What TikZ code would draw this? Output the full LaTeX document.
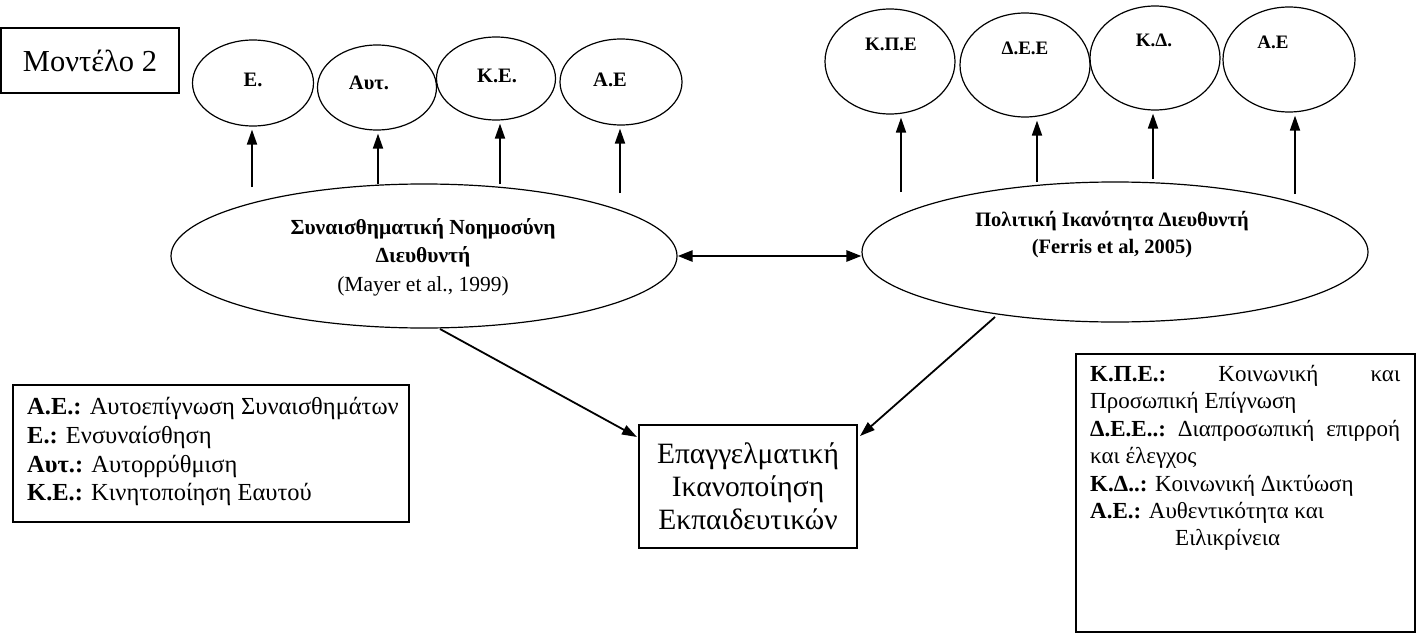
\documentclass[tikz,border=0pt]{standalone}
\usepackage{fontspec}
\setmainfont{Liberation Serif}
\usetikzlibrary{shapes.geometric,arrows.meta,calc}
\begin{document}
\begin{tikzpicture}[x=1pt,y=-1pt,
  circ/.style={draw, ellipse, inner sep=0pt, line width=1.2pt},
  lab/.style={font=\bfseries\fontsize{20.5}{23}\selectfont, inner sep=0pt},
  rlab/.style={font=\bfseries\fontsize{19}{22}\selectfont, inner sep=0pt},
  arr/.style={line width=1.8pt, -{Triangle[length=15pt,width=10pt]}, shorten >=3pt},
  darr/.style={line width=2.6pt, {Triangle[length=15pt,width=11pt]}-{Triangle[length=15pt,width=11pt]}},
  boxst/.style={draw, line width=1.2pt, rectangle, inner sep=0pt},
  legtext/.style={inner sep=0pt, anchor=north west, align=left, font=\fontsize{24.5}{28.8}\selectfont},
]
\useasboundingbox (0,0) rectangle (1421,634);

% title box
\node[boxst, minimum width=178pt, minimum height=65pt, font=\fontsize{30.5}{34}\selectfont] (title) at (90,60.5) {Μοντέλο 2};

% left circles
\node[circ, minimum width=121pt, minimum height=86pt] (c1) at (253,83) {};
\node[circ, minimum width=119pt, minimum height=85pt] (c2) at (377,87.5) {};
\node[circ, minimum width=119pt, minimum height=83pt] (c3) at (496,78.5) {};
\node[circ, minimum width=122pt, minimum height=86pt] (c4) at (621,82) {};
\node[lab] (t1) at (253,80) {Ε.};
\node[lab] (t2) at (369,83) {Αυτ.};
\node[lab] (t3) at (497,76) {Κ.Ε.};
\node[lab] (t4) at (610,80) {Α.Ε};

% right circles
\node[circ, minimum width=130pt, minimum height=105pt] (d1) at (890,61.5) {};
\node[circ, minimum width=130pt, minimum height=104pt] (d2) at (1025,65) {};
\node[circ, minimum width=130pt, minimum height=104pt] (d3) at (1155,58) {};
\node[circ, minimum width=132pt, minimum height=105pt] (d4) at (1289,59.5) {};
\node[rlab] (u1) at (891,44) {Κ.Π.Ε};
\node[rlab] (u2) at (1025,48) {Δ.Ε.Ε};
\node[rlab] (u3) at (1154,40) {Κ.Δ.};
\node[rlab] (u4) at (1273,42) {Α.Ε};

% main ellipses
\node[circ, minimum width=506pt, minimum height=144pt] (L) at (424,256) {};
\node[inner sep=0pt, align=center, font=\fontsize{21.5}{28.5}\selectfont] (Ltext) at (423,257)
  {\textbf{Συναισθηματική Νοημοσύνη}\\\textbf{Διευθυντή}\\(Mayer et al., 1999)};
\node[circ, minimum width=506pt, minimum height=140pt] (R) at (1115,252) {};
\node[inner sep=0pt, align=center, font=\bfseries\fontsize{20.5}{27}\selectfont] (Rtext) at (1112,235)
  {Πολιτική Ικανότητα Διευθυντή\\(Ferris et al, 2005)};

% arrow starts
\coordinate (a1) at (252,187);
\coordinate (a2) at (378,184);
\coordinate (a3) at (500,184);
\coordinate (a4) at (620,193);
\coordinate (b1) at (901,192);
\coordinate (b2) at (1037,182);
\coordinate (b3) at (1153,179);
\coordinate (b4) at (1295,194);
\draw[arr] (a1) -- (a1 |- c1.south);
\draw[arr] (a2) -- (a2 |- c2.south);
\draw[arr] (a3) -- (a3 |- c3.south);
\draw[arr] (a4) -- (a4 |- c4.south);
\draw[arr] (b1) -- (b1 |- d1.south);
\draw[arr] (b2) -- (b2 |- d2.south);
\draw[arr] (b3) -- (b3 |- d3.south);
\draw[arr] (b4) -- (b4 |- d4.south);

% double arrow
\draw[darr] (L.east) -- (L.east -| R.west);

% outcome box
\node[boxst, minimum width=218pt, minimum height=123pt, align=center, font=\fontsize{29.5}{33}\selectfont] (B) at (748,486.5)
  {Επαγγελματική\\Ικανοποίηση\\Εκπαιδευτικών};
\coordinate (ls) at (440,329);
\coordinate (lt) at (637,437);
\coordinate (rs) at (995,317);
\coordinate (rt) at (860,436);
\draw[arr, shorten >=0pt] (ls) -- (lt);
\draw[arr, shorten >=0pt] (rs) -- (rt);

% left legend
\node[boxst, minimum width=396pt, minimum height=137pt] (LL) at (211,453.5) {};
\node[legtext] (LLt) at (27,397)
  {\textbf{Α.Ε.:} Αυτοεπίγνωση Συναισθημάτων\\
   \textbf{Ε.:} Ενσυναίσθηση\\
   \textbf{Αυτ.:} Αυτορρύθμιση\\
   \textbf{Κ.Ε.:} Κινητοποίηση Εαυτού};

% right legend
\node[boxst, minimum width=339pt, minimum height=278pt] (RL) at (1245.5,493) {};
\node[legtext, font=\fontsize{23}{27.4}\selectfont] (RLt) at (1090,365)
  {\makebox[310pt][s]{\textbf{Κ.Π.Ε.:}\hfill Κοινωνική\hfill και}\\
   Προσωπική Επίγνωση\\
   \makebox[310pt][s]{\textbf{Δ.Ε.Ε..:}\hfill Διαπροσωπική\hfill επιρροή}\\
   και έλεγχος\\
   \textbf{Κ.Δ..:} Κοινωνική Δικτύωση\\
   \textbf{Α.Ε.:} Αυθεντικότητα και\\
   \hspace*{85pt}Ειλικρίνεια};
\end{tikzpicture}
\end{document}
